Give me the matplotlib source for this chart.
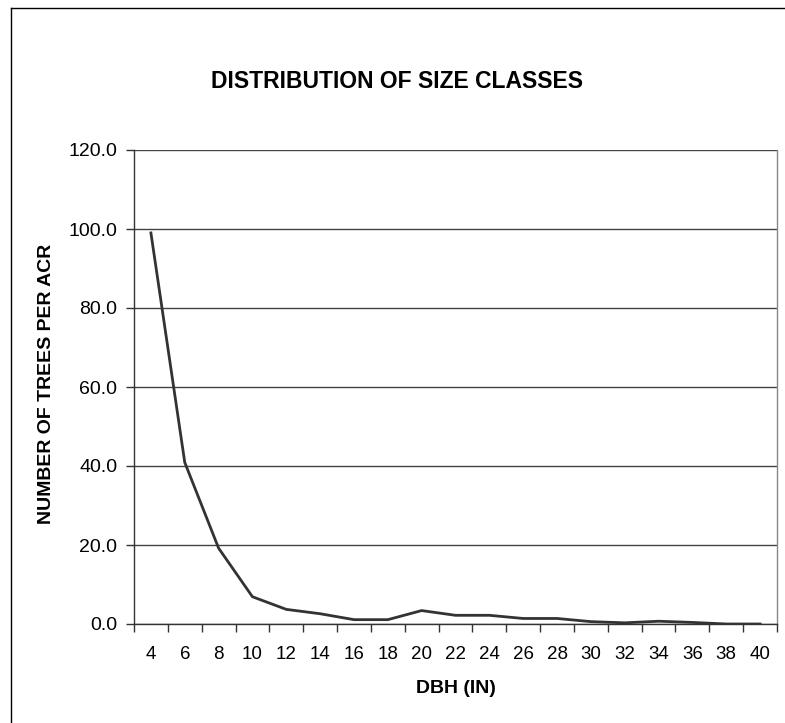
import matplotlib.pyplot as plt
from matplotlib.lines import Line2D

plt.rcParams['font.family'] = ['Liberation Sans', 'DejaVu Sans']

dbh = ["4", "6", "8", "10", "12", "14", "16", "18", "20", "22",
       "24", "26", "28", "30", "32", "34", "36", "38", "40"]
trees = [99.0, 40.9, 19.2, 6.9, 3.7, 2.6, 1.1, 1.1, 3.4, 2.2,
         2.2, 1.4, 1.4, 0.6, 0.3, 0.7, 0.4, 0.0, 0.0]
yticks = [0, 20, 40, 60, 80, 100, 120]

W, H = 785, 723
fig = plt.figure(figsize=(W / 100, H / 100), dpi=100)
ax = fig.add_axes([134 / W, (H - 624) / H, (777 - 134) / W, (624 - 150) / H])

x = list(range(len(dbh)))
ax.plot(x, trees, color="#333333", linewidth=2.0)

ax.set_xlim(-0.5, len(dbh) - 0.5)
ax.set_ylim(0, 120)
ax.set_yticks(yticks)
ax.set_yticklabels([f"{v:.1f}" for v in yticks], fontsize=14)
ax.set_xticks([i - 0.5 for i in range(len(dbh) + 1)])
ax.set_xticklabels([])
ax.set_xticks(x, minor=True)
ax.set_xticklabels(dbh, minor=True, fontsize=13.5)
ax.tick_params(axis="x", which="minor", length=0, pad=16)
ax.tick_params(axis="x", which="major", length=6, width=1, color="#333333")
ax.tick_params(axis="y", length=6, width=1, color="#333333", pad=6)

ax.grid(axis="y", color="#444444", linewidth=1)
ax.set_axisbelow(True)
ax.spines["top"].set_visible(False)
ax.spines["right"].set_color("#888888")
ax.spines["left"].set_color("#333333")
ax.spines["bottom"].set_color("#333333")
for s in ax.spines.values():
    s.set_linewidth(1)

ax.set_xlabel("DBH (IN)", fontsize=14, fontweight="bold", labelpad=12)
ax.set_ylabel("NUMBER OF TREES PER ACR", fontsize=14, fontweight="bold")
ax.yaxis.set_label_coords(-(134 - 55) / (777 - 134), (624 - 384) / (624 - 150))
fig.text(397 / W, 1 - 82 / H, "DISTRIBUTION OF SIZE CLASSES", ha="center", va="center",
         fontsize=16.5, fontweight="bold")

# outer frame (only left and top edges fall inside the image)
fig.add_artist(Line2D([11 / W, 11 / W], [0, 1 - 8 / H], transform=fig.transFigure,
                      color="black", linewidth=1))
fig.add_artist(Line2D([11 / W, 1], [1 - 8 / H, 1 - 8 / H], transform=fig.transFigure,
                      color="black", linewidth=1))

plt.savefig("out.png", dpi=100)
plt.close()
